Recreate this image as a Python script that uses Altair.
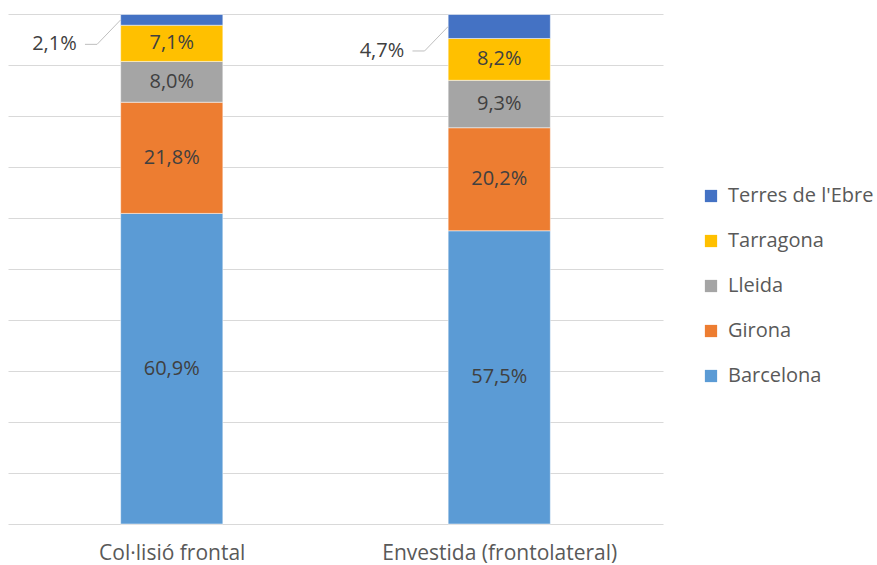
import altair as alt
import pandas as pd

categories = ["Col·lisió frontal", "Envestida (frontolateral)"]
regions = ["Barcelona", "Girona", "Lleida", "Tarragona", "Terres de l'Ebre"]
colors = ["#5B9BD5", "#ED7D31", "#A5A5A5", "#FFC000", "#4472C4"]
frontal = [60.9, 21.8, 8.0, 7.1, 2.1]
envestida = [57.5, 20.2, 9.3, 8.2, 4.7]
series = [frontal, envestida]

# style constants (index units of the x scale / percent units of y)
HW = 0.156          # bar half width
LABEL_DROP = 4.8    # outside label below segment middle
TXT_X = 0.29
H1, H2 = 0.265, 0.228

rows = []
for ci, (cat, vals) in enumerate(zip(categories, series)):
    base = 0.0
    for ri, (reg, v) in enumerate(zip(regions, vals)):
        y0, y1 = base, base + v
        base = y1
        mid = (y0 + y1) / 2
        rows.append(dict(cat=cat, idx=ci, region=reg, order=ri, y0=y0, y1=y1, mid=mid,
                         label=f"{v:.1f}".replace(".", ",") + "%",
                         inside=v >= 6,
                         xl=ci - HW, xr=ci + HW,
                         tx=ci - TXT_X, h1=ci - H1, h2=ci - H2,
                         ly=mid - LABEL_DROP))
df = pd.DataFrame(rows)

FONT = "Open Sans"
TXT = "#404040"
xscale = alt.Scale(domain=[-0.5, 1.5], nice=False, zero=False)
yscale = alt.Scale(domain=[0, 100], nice=False)
label_expr = "[" + ",".join("'" + c + "'" for c in categories) + "][datum.value]"

xaxis = alt.Axis(values=[0, 1], labelExpr=label_expr, grid=False, ticks=False,
                 domain=False, title=None, labelFont=FONT, labelFontSize=21,
                 labelColor="#595959", labelPadding=18, labelLimit=0)
yaxis = alt.Axis(values=list(range(0, 101, 10)), labels=False, ticks=False,
                 domain=False, title=None, grid=True, gridColor="#D9D9D9", gridWidth=1)

base = alt.Chart(df)

bars = base.mark_bar(stroke="white", strokeWidth=0.5).encode(
    x=alt.X("xl:Q", scale=xscale, axis=xaxis),
    x2="xr:Q",
    y=alt.Y("y0:Q", scale=yscale, axis=yaxis),
    y2="y1:Q",
    color=alt.Color("region:N",
                    scale=alt.Scale(domain=regions[::-1], range=colors[::-1]),
                    legend=alt.Legend(title=None, orient="none", legendX=693, legendY=172,
                                      symbolType="square", symbolSize=150,
                                      symbolStrokeWidth=0, labelFont=FONT,
                                      labelFontSize=20, labelColor="#595959",
                                      rowPadding=25, labelOffset=7, padding=0,
                                      labelLimit=0)),
)

inner = base.transform_filter("datum.inside").mark_text(
    font=FONT, fontSize=20, color=TXT, baseline="middle", align="center"
).encode(x=alt.X("idx:Q", scale=xscale, axis=xaxis),
         y=alt.Y("mid:Q", scale=yscale, axis=yaxis), text="label:N")

outer = base.transform_filter("!datum.inside")

out_text = outer.mark_text(
    font=FONT, fontSize=20, color=TXT, baseline="middle", align="right"
).encode(x=alt.X("tx:Q", scale=xscale, axis=xaxis),
         y=alt.Y("ly:Q", scale=yscale, axis=yaxis), text="label:N")

lead_h = outer.mark_rule(color="#BFBFBF", strokeWidth=1).encode(
    x=alt.X("h1:Q", scale=xscale, axis=xaxis), x2="h2:Q",
    y=alt.Y("ly:Q", scale=yscale, axis=yaxis))

lead_d = outer.mark_rule(color="#BFBFBF", strokeWidth=1).encode(
    x=alt.X("h2:Q", scale=xscale, axis=xaxis), x2="xl:Q",
    y=alt.Y("ly:Q", scale=yscale, axis=yaxis), y2="mid:Q")

chart = alt.layer(bars, inner, lead_h, lead_d, out_text).properties(
    width=655, height=510,
    background="white",
    autosize=alt.AutoSizeParams(type="none"),
    padding={"left": 8, "top": 14, "right": 214, "bottom": 41},
).configure_view(strokeWidth=0, stroke="transparent").configure_axisX(grid=False)

chart.save("out.html", embed_options={"renderer": "svg", "actions": False})
